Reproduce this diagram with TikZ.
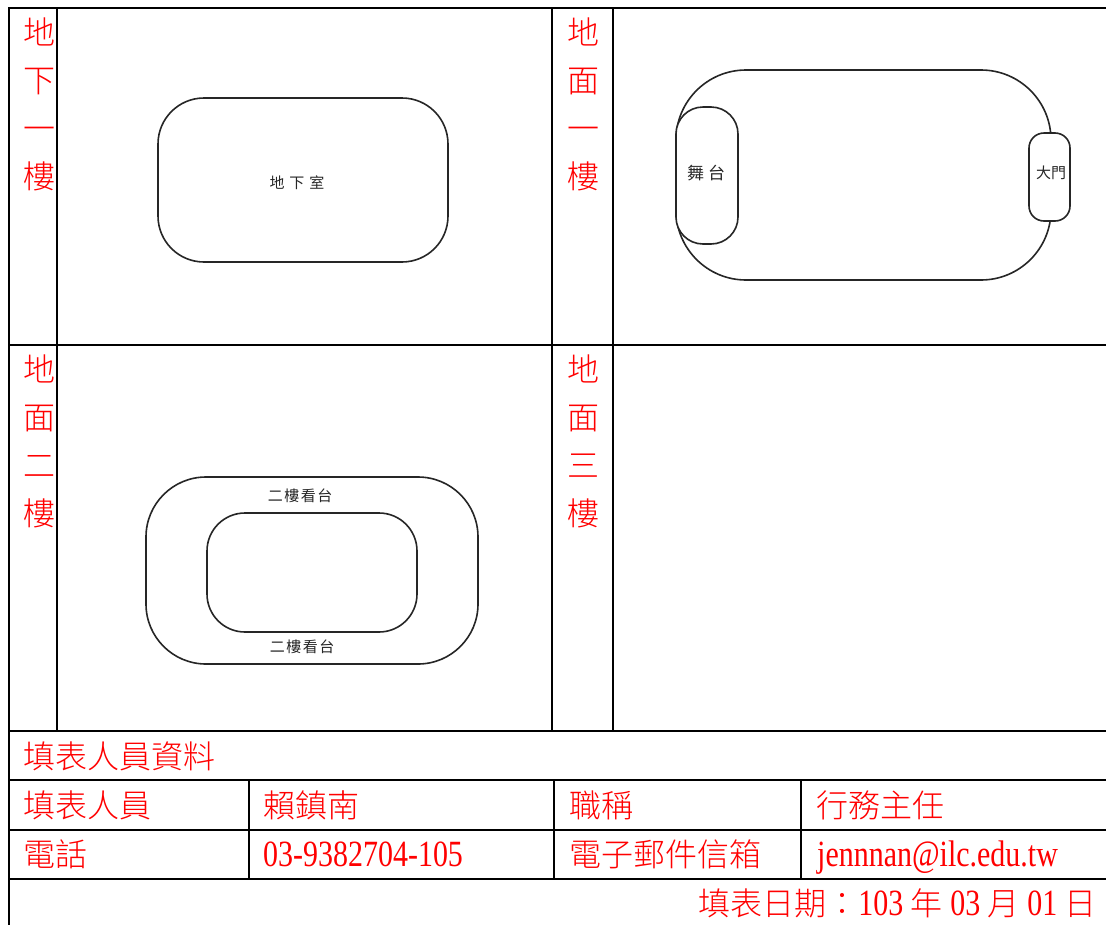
\documentclass[tikz,border=0pt]{standalone}
\usepackage{fontspec}
\setmainfont{Liberation Serif}
\newfontfamily\cjk{Noto Sans CJK TC Light}
\newfontfamily\cjktag{Noto Sans CJK TC}
\newfontfamily\latn[FakeStretch=0.81]{Liberation Serif}
\definecolor{inkline}{HTML}{262626}
\tikzset{
  grid/.style={line width=2pt,black,line cap=rect},
  lbl/.style={text=red,inner sep=0pt,anchor=base west,font=\fontsize{32}{32}\selectfont\cjk},
  vlbl/.style={text=red,inner sep=0pt,anchor=north,align=center,font=\fontsize{32}{48}\selectfont\cjk},
  room/.style={draw=inkline,line width=1.6pt,fill=white},
  tag/.style={text=black!85,inner sep=0pt,font=\fontsize{15}{15}\selectfont\cjktag},
}
\begin{document}
\begin{tikzpicture}[x=1pt,y=-1pt]
\useasboundingbox (0,0) rectangle (1106,924);
% rooms
\draw[room,rounded corners=46pt] (158,98) rectangle (448,262);
\draw[room,rounded corners=70pt] (676,70) rectangle (1051,280);
\draw[room,rounded corners=27pt] (676,107) rectangle (738,244);
\draw[room,rounded corners=15pt] (1029,133) rectangle (1070,221);
\draw[room,rounded corners=60pt] (146,477) rectangle (478,664);
\draw[room,rounded corners=38pt] (207,513) rectangle (417,632);
\node[tag] (basement) at (297,183) {地\hspace{5pt}下\hspace{5pt}室};
\node[tag,font=\fontsize{17}{17}\selectfont\cjktag] (stage) at (706,173) {舞\hspace{4pt}台};
\node[tag] (door) at (1051,173) {大門};
\node[tag] (standa) at (300,496) {二\hspace{1.5pt}樓\hspace{1.5pt}看\hspace{1.5pt}台};
\node[tag] (standb) at (302,647) {二\hspace{1.5pt}樓\hspace{1.5pt}看\hspace{1.5pt}台};
% table rules
\draw[grid] (9,8) -- (1106,8);
\draw[grid] (9,345) -- (1106,345);
\draw[grid] (9,731) -- (1106,731);
\draw[grid] (9,780) -- (1106,780);
\draw[grid] (9,830) -- (1106,830);
\draw[grid] (9,879) -- (1106,879);
\draw[grid] (9,8) -- (9,924);
\draw[grid] (57,8) -- (57,731);
\draw[grid] (552,8) -- (552,731);
\draw[grid] (613,8) -- (613,731);
\draw[grid] (249,780) -- (249,879);
\draw[grid] (553.5,780) -- (553.5,879);
\draw[grid] (801,780) -- (801,879);
% vertical headers
\node[vlbl] (b1) at (39.5,18) {地\\下\\一\\樓};
\node[vlbl] (f1) at (583.5,18) {地\\面\\一\\樓};
\node[vlbl] (f2) at (39.5,355) {地\\面\\二\\樓};
\node[vlbl] (f3) at (583.5,355) {地\\面\\三\\樓};
% form
\node[lbl] (info) at (23,768) {填表人員資料};
\node[lbl] (who) at (23,817) {填表人員};
\node[lbl] (name) at (263,817) {賴鎮南};
\node[lbl] (title) at (569,817) {職稱};
\node[lbl] (job) at (816,817) {行務主任};
\node[lbl] (tel) at (23,866) {電話};
\node[lbl] (num) at (263,866) {\fontsize{37}{37}\selectfont\latn 03-9382704-105};
\node[lbl] (mail) at (569,866) {電子郵件信箱};
\node[lbl] (addr) at (817,866) {\fontsize{37}{37}\selectfont\latn jennnan@ilc.edu.tw};
\node[lbl,anchor=base east] (date) at (1097,915) {填表日期：{\fontsize{37}{37}\selectfont\latn 103 }年{\fontsize{37}{37}\selectfont\latn{} 03 }月{\fontsize{37}{37}\selectfont\latn{} 01 }日};
\end{tikzpicture}
\end{document}
